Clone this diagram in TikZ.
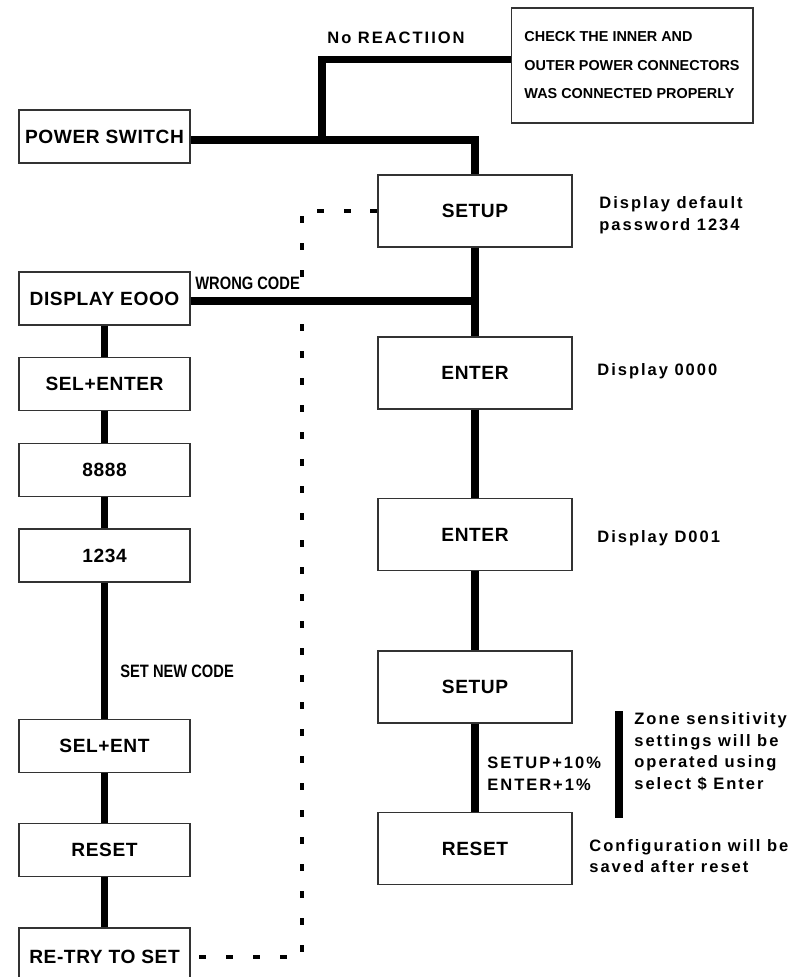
\documentclass[tikz,border=0pt]{standalone}
\usepackage{fontspec}
\setmainfont{Liberation Sans}
\newfontfamily\boxfont[LetterSpace=3]{Liberation Sans}
\newfontfamily\notefont[LetterSpace=12]{Liberation Sans}
\newfontfamily\narrowfont[FakeStretch=0.82]{Liberation Sans}
\usetikzlibrary{positioning}

\begin{document}
\begin{tikzpicture}[x=0.02cm,y=-0.02cm,
        box/.style={draw=black!80,line width=0.6pt,minimum width=3.42cm,minimum height=1.06cm,inner sep=0pt,
            font=\boxfont\fontsize{10.9}{13}\selectfont\bfseries},
        bigbox/.style={box,minimum width=3.88cm,minimum height=1.44cm},
        wire/.style={line width=4pt},
        dashline/.style={line width=2.3pt,dash pattern=on 0.14cm off 0.4cm},
        note/.style={anchor=west,align=left,inner sep=0pt,
            font=\notefont\fontsize{9.4}{12.3}\selectfont\bfseries},
        tag/.style={anchor=west,inner sep=0pt,font=\narrowfont\fontsize{10.2}{12}\selectfont\bfseries}]
        \useasboundingbox (0,0) rectangle (807,977);

        % Left column
        \node[box] (power) at (104.5,136.5) {POWER SWITCH};
        \node[box] (disp) at (104.5,298.5) {DISPLAY EOOO};
        \node[box] (selenter) at (104.5,384) {SEL+ENTER};
        \node[box] (n8888) at (104.5,470) {8888};
        \node[box] (n1234) at (104.5,555.5) {1234};
        \node[box] (selent) at (104.5,746) {SEL+ENT};
        \node[box] (resetL) at (104.5,850) {RESET};
        \node[box,minimum height=1.16cm] (retry) at (104.5,957) {RE-TRY TO SET};

        % Right column
        \node[bigbox] (setupA) at (475,211) {SETUP};
        \node[bigbox] (enterA) at (475,373) {ENTER};
        \node[bigbox] (enterB) at (475,534.5) {ENTER};
        \node[bigbox] (setupB) at (475,687) {SETUP};
        \node[bigbox] (resetR) at (475,848.5) {RESET};

        % Check box
        \node[draw=black!80,line width=0.6pt,minimum width=4.84cm,minimum height=2.3cm,inner sep=0pt,
            align=left,font=\fontsize{8.2}{16.2}\selectfont\bfseries] (check) at (632,65.5)
            {CHECK THE INNER AND\\OUTER POWER CONNECTORS\\WAS CONNECTED PROPERLY};

        % Connectors
        \coordinate (split) at (322,140);
        \draw[wire] ([yshift=-0.07cm]power.east) -| (setupA.north);
        \draw[wire] (split) |- (check.177);
        \draw[wire] (setupA) -- (enterA) -- (enterB) -- (setupB) -- (resetR);
        \draw[wire] ([yshift=-0.05cm]disp.east) -- ([yshift=-0.05cm]disp.east -| setupA.center);
        \draw[wire] (disp) -- (selenter) -- (n8888) -- (n1234) -- (selent) -- (resetL) -- (retry);
        \coordinate (dtop) at (302,211);
        \coordinate (dbot) at (302,957);
        \draw[dashline] (setupA.west) -- (dtop) -- (dbot) -- (retry.east);

        % Labels
        \node[note,anchor=center] (noreact) at (396,38) {No REACTIION};
        \node[tag] (wrong) at (195,283) {WRONG CODE};
        \node[tag] (newcode) at (120,671) {SET NEW CODE};
        \node[note] (dflt) at (599,215) {Display default\\password 1234};
        \node[note] (dzero) at (597,371) {Display 0000};
        \node[note] (done) at (597,538) {Display D001};
        \node[note] (steps) at (487,774) {SETUP+10\%\\ENTER+1\%};
        \node[note] (zone) at (634,751.5) {Zone sensitivity\\settings will be\\operated using\\select \$ Enter};
        \node[note] (config) at (589,856) {Configuration will be\\saved after reset};
        \coordinate (bartop) at (619,711);
        \coordinate (barbot) at (619,818);
        \draw[line width=4.5pt] (bartop) -- (barbot);
    \end{tikzpicture}
\end{document}
